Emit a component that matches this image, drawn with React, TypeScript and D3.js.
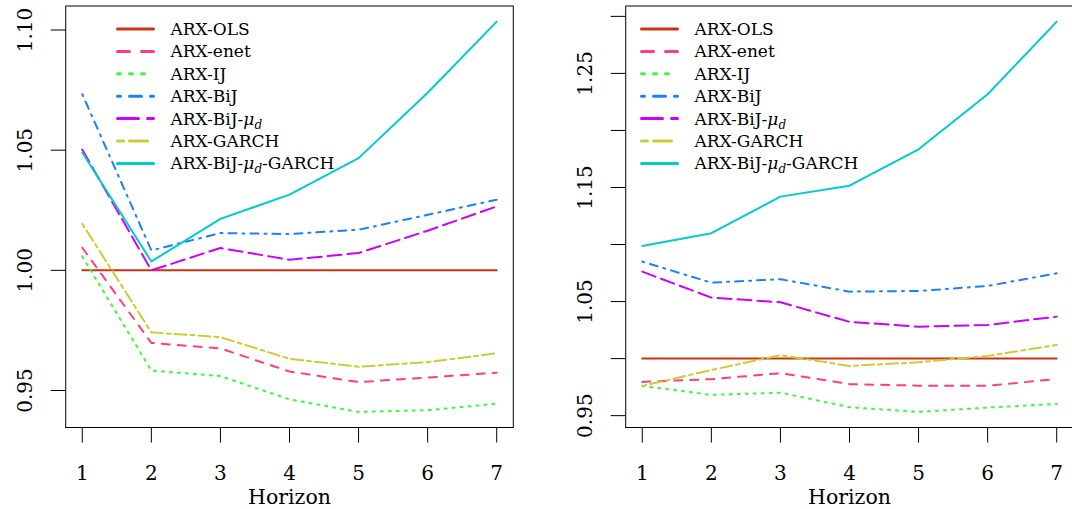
import React from "react";
import * as d3 from "d3";

const horizons = [1, 2, 3, 4, 5, 6, 7];
const seriesNames = ["ARX-OLS", "ARX-enet", "ARX-IJ", "ARX-BiJ", "ARX-BiJ-μd", "ARX-GARCH", "ARX-BiJ-μd-GARCH"];
const seriesColors = ["#CC3311", "#FF3D7F", "#33FF33", "#1A80FF", "#CC00FF", "#CCCC33", "#00CCCC"];
// R lty patterns (in units of lwd)
const seriesDash = [[], [4, 4], [1, 3], [1, 3, 4, 3], [7, 3], [2, 2, 6, 2], []];

// Left panel
const olsL = [1, 1, 1, 1, 1, 1, 1];
const enetL = [1.0094, 0.9698, 0.9675, 0.9579, 0.9535, 0.9554, 0.9574];
const ijL = [1.0058, 0.9583, 0.956, 0.9463, 0.9411, 0.9418, 0.9445];
const bijL = [1.0733, 1.0083, 1.0155, 1.0151, 1.0169, 1.0231, 1.0294];
const bijMuL = [1.0502, 1.0, 1.0093, 1.0044, 1.0072, 1.0165, 1.0266];
const garchL = [1.0194, 0.9742, 0.9722, 0.9632, 0.9599, 0.9618, 0.9655];
const fullL = [1.049, 1.0037, 1.0214, 1.0315, 1.0467, 1.0739, 1.1035];

// Right panel
const olsR = [1, 1, 1, 1, 1, 1, 1];
const enetR = [0.9796, 0.982, 0.9872, 0.9776, 0.9763, 0.9761, 0.9822];
const ijR = [0.9761, 0.9682, 0.9702, 0.9574, 0.9533, 0.9571, 0.9603];
const bijR = [1.085, 1.0666, 1.0696, 1.0587, 1.0593, 1.0637, 1.0748];
const bijMuR = [1.0762, 1.0535, 1.0494, 1.0322, 1.028, 1.0295, 1.0368];
const garchR = [0.9761, 0.99, 1.003, 0.9936, 0.9968, 1.0024, 1.012];
const fullR = [1.0988, 1.1099, 1.142, 1.1516, 1.1835, 1.2317, 1.2954];

const yTicksL = [0.95, 1.0, 1.05, 1.1];
const yLabelsL = ["0.95", "1.00", "1.05", "1.10"];
const yTicksR = [0.95, 1.0, 1.05, 1.1, 1.15, 1.2, 1.25, 1.3];
const yLabelsR = ["0.95", "", "1.05", "", "1.15", "", "1.25", ""];
const xLabel = "Horizon";

const FONT = '"DejaVu Serif", serif';

function rDomain(ext: [number, number]): [number, number] {
  const r = ext[1] - ext[0];
  return [ext[0] - 0.04 * r, ext[1] + 0.04 * r];
}

function LegendLabel({ name }: { name: string }) {
  if (!name.includes("μd")) return <>{name}</>;
  const [a, b] = name.split("μd");
  return (
    <>
      {a}
      <tspan fontStyle="italic">μ</tspan>
      <tspan fontStyle="italic" fontSize={12} dy={4}>d</tspan>
      {b ? <tspan dy={-4}>{b}</tspan> : null}
    </>
  );
}

function Panel({
  series,
  left,
  right,
  yTicks,
  yLabels,
  legendX,
}: {
  series: number[][];
  left: number;
  right: number;
  yTicks: number[];
  yLabels: string[];
  legendX: number;
}) {
  const top = 6;
  const bottom = 427.5;
  const all = series.flat();
  const x = d3.scaleLinear().domain(rDomain(d3.extent(horizons) as [number, number])).range([left, right]);
  const y = d3.scaleLinear().domain(rDomain(d3.extent(all) as [number, number])).range([bottom, top]);
  const line = d3
    .line<number>()
    .x((_, i) => x(horizons[i]))
    .y((v) => y(v));
  const lwd = 2;
  const lwdLeg = 3;
  return (
    <g fontFamily={FONT}>
      <rect x={left} y={top} width={right - left} height={bottom - top} fill="none" stroke="#000" strokeWidth={1} />
      {series.map((s, i) => (
        <path
          key={i}
          d={line(s) || ""}
          fill="none"
          stroke={seriesColors[i]}
          strokeWidth={lwd}
          strokeLinecap="round"
          strokeLinejoin="round"
          strokeDasharray={seriesDash[i].length ? seriesDash[i].map((d) => d * lwd).join(",") : undefined}
        />
      ))}
      {yTicks.map((t, i) => (
        <g key={i}>
          <line x1={left - 15} x2={left} y1={y(t)} y2={y(t)} stroke="#000" strokeWidth={1} />
          {yLabels[i] ? (
            <text
              transform={`translate(${left - 33.5},${y(t)}) rotate(-90)`}
              textAnchor="middle"
              fontSize={20}
              fill="#000"
            >
              {yLabels[i]}
            </text>
          ) : null}
        </g>
      ))}
      {horizons.map((h) => (
        <g key={h}>
          <line x1={x(h)} x2={x(h)} y1={bottom} y2={bottom + 15} stroke="#000" strokeWidth={1} />
          <text x={x(h)} y={479.5} textAnchor="middle" fontSize={20} fill="#000">
            {h}
          </text>
        </g>
      ))}
      <text x={(left + right) / 2} y={503.5} textAnchor="middle" fontSize={20.5} fill="#000">
        {xLabel}
      </text>
      {seriesNames.map((n, i) => {
        const ly = 29 + 22.4 * i;
        return (
          <g key={n}>
            <line
              x1={legendX}
              x2={legendX + 36}
              y1={ly}
              y2={ly}
              stroke={seriesColors[i]}
              strokeWidth={lwdLeg}
              strokeLinecap="round"
              strokeDasharray={seriesDash[i].length ? seriesDash[i].map((d) => d * lwdLeg).join(",") : undefined}
            />
            <text x={legendX + 53} y={ly + 6} fontSize={17} fill="#000">
              <LegendLabel name={n} />
            </text>
          </g>
        );
      })}
    </g>
  );
}

export default function App() {
  const leftSeries = [olsL, enetL, ijL, bijL, bijMuL, garchL, fullL];
  const rightSeries = [olsR, enetR, ijR, bijR, bijMuR, garchR, fullR];
  return (
    <svg
      width={1072}
      height={509}
      viewBox="0 0 1072 509"
      style={{ position: "absolute", left: 0, top: 0, display: "block", background: "#fff" }}
    >
      <rect x={0} y={0} width={1072} height={509} fill="#fff" />
      <Panel series={leftSeries} left={65.7} right={513.3} yTicks={yTicksL} yLabels={yLabelsL} legendX={117.5} />
      <Panel series={rightSeries} left={625.7} right={1073.3} yTicks={yTicksR} yLabels={yLabelsR} legendX={641.5} />
    </svg>
  );
}
